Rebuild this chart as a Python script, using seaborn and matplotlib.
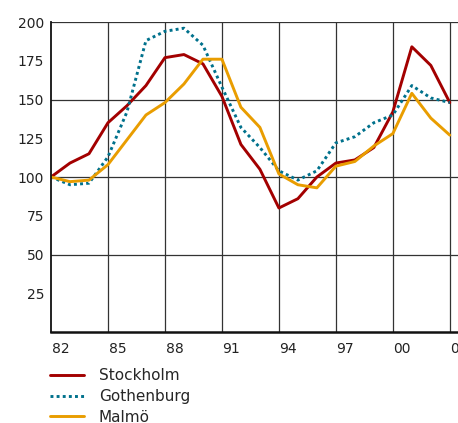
import numpy as np
import pandas as pd
import matplotlib
matplotlib.use("Agg")
import matplotlib.pyplot as plt
import seaborn as sns

sns.set_style("white")
plt.rcParams['font.family'] = ['DejaVu Sans']

# House price index, 1982 = 100
years = list(range(1982, 2004))
stockholm = [100, 109, 115, 135, 146, 159, 177, 179, 173, 152, 121, 105,
             80, 86, 100, 109, 111, 119, 142, 184, 172, 148]
gothenburg = [100, 95, 96, 113, 142, 188, 194, 196, 185, 158, 132, 119,
              104, 98, 104, 122, 126, 135, 140, 159, 151, 148]
malmo = [100, 97, 98, 108, 124, 140, 148, 160, 176, 176, 145, 132,
         102, 95, 93, 107, 110, 120, 128, 154, 138, 127]

cities = ['Stockholm', 'Gothenburg', 'Malmö']
colors = {'Stockholm': '#a30000', 'Gothenburg': '#00718c', 'Malmö': '#e99d00'}
dashes = {'Stockholm': '', 'Gothenburg': (1, 1.1), 'Malmö': ''}

year_labels = ['82', '85', '88', '91', '94', '97', '00', '03']
y_labels = [25, 50, 75, 100, 125, 150, 175, 200]

df = pd.DataFrame({
    'year': years * 3,
    'index': stockholm + gothenburg + malmo,
    'city': [c for c in cities for _ in years],
})

fig = plt.figure(figsize=(4.58, 4.23), dpi=100)
W, H = 458, 423
ax = fig.add_axes([51 / W, (H - 332) / H, 414 / W, 310 / H])

sns.lineplot(data=df, x='year', y='index', hue='city', style='city',
             palette=colors, dashes=dashes, hue_order=cities, style_order=cities,
             linewidth=2.1, ax=ax, legend=True)

ax.set_xlim(1982, 2003.8)
ax.set_ylim(0, 200)

# gridlines every three years / every 50
for yr in range(1985, 2004, 3):
    ax.axvline(yr, color='#333333', lw=0.9, zorder=0)
for v in [50, 100, 150, 200]:
    ax.axhline(v, color='#333333', lw=0.9, zorder=0)

# x labels sit in the middle of each year
ax.set_xticks([int('19' + l) + 0.5 if int(l) > 50 else int('20' + l) + 0.5 for l in year_labels])
ax.set_xticklabels(year_labels)
ax.set_xticks(years, minor=True)
ax.tick_params(axis='x', which='major', length=0, labelsize=10, pad=7, colors='#222222')
ax.tick_params(axis='x', which='minor', direction='in', length=6, width=0.9, color='#222222')

ax.set_yticks(y_labels)
ax.set_yticklabels([str(v) for v in y_labels])
ax.set_yticks([25, 75, 125, 175], minor=True)
ax.tick_params(axis='y', which='major', length=0, labelsize=10, pad=5, colors='#222222')
ax.tick_params(axis='y', which='minor', direction='in', length=10, width=1.1,
               color='#666666', left=True, right=True)

ax.set_xlabel('')
ax.set_ylabel('')
for side in ['top', 'right']:
    ax.spines[side].set_visible(False)
ax.spines['left'].set_color('#111111')
ax.spines['left'].set_linewidth(1.3)
ax.spines['bottom'].set_color('#111111')
ax.spines['bottom'].set_linewidth(1.8)

handles, labels = ax.get_legend_handles_labels()
ax.legend(handles, labels, loc='upper left', bbox_to_anchor=(44 / W, (H - 362) / H),
          bbox_transform=fig.transFigure, frameon=False, fontsize=11,
          handlelength=2.2, handletextpad=1.0, labelspacing=0.38, borderaxespad=0)

fig.savefig('out.png', dpi=100)
